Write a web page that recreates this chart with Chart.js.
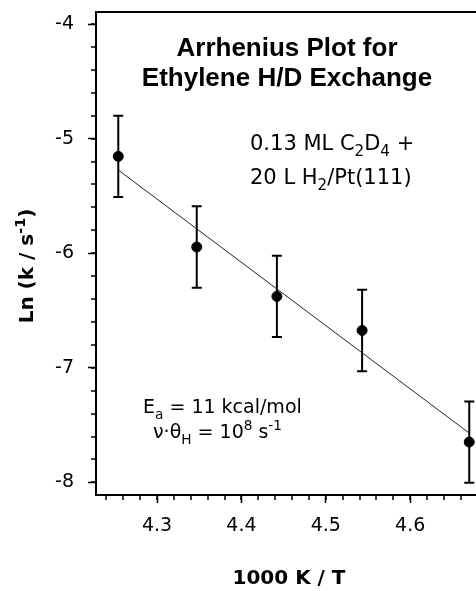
<!DOCTYPE html>
<html>
<head>
<meta charset="utf-8">
<script src="https://cdn.jsdelivr.net/npm/chart.js@4.4.0/dist/chart.umd.min.js"></script>
<style>
  html, body { margin: 0; padding: 0; background: #fff; overflow: hidden; }
</style>
</head>
<body>
<canvas id="arrhenius" width="476" height="591"></canvas>
<script>
// 1000/T (K^-1) and ln k for the five temperatures
const invTemp = [4.254, 4.347, 4.442, 4.543, 4.670];
const lnK = [-5.155, -5.946, -6.377, -6.674, -7.648];
const lnKErr = [0.355, 0.355, 0.355, 0.355, 0.355];

// fitted line end points
const fitX = [4.254, 4.670];
const fitY = [-5.274, -7.570];

const xTicks = [4.3, 4.4, 4.5, 4.6];
const yTicks = [-8, -7, -6, -5, -4];
const xMinorStep = 0.02;
const yMinorStep = 0.2;

const SANS = "'Liberation Sans', Arial, sans-serif";
const WIDE = "'DejaVu Sans', sans-serif";

// draws text runs with sub/superscripts, baseline at y
function drawRich(ctx, parts, x, y, size, opts = {}) {
    const weight = opts.bold ? 'bold ' : '';
    const family = opts.family || WIDE;
    const fontOf = p => weight + ((p.sub || p.sup) ? size * 0.72 : size) + 'px ' + family;
    let w = 0;
    parts.forEach(p => { ctx.font = fontOf(p); w += ctx.measureText(p.t).width; });
    let cx = opts.align === 'center' ? x - w / 2 : x;
    ctx.textAlign = 'left';
    ctx.textBaseline = 'alphabetic';
    parts.forEach(p => {
        ctx.font = fontOf(p);
        const dy = p.sub ? size * 0.3 : p.sup ? -size * 0.42 : 0;
        ctx.fillText(p.t, cx, y + dy);
        cx += ctx.measureText(p.t).width;
    });
}

const framePlugin = {
    id: 'frame',
    afterDraw(chart) {
        const { ctx, chartArea: a } = chart;
        ctx.save();
        ctx.strokeStyle = '#000';
        ctx.lineWidth = 2;
        ctx.beginPath();
        ctx.moveTo(a.left - 1, a.top);
        ctx.lineTo(a.right, a.top);
        ctx.stroke();

        // minor ticks
        const xs = chart.scales.x, ys = chart.scales.y;
        ctx.lineWidth = 1.5;
        ctx.beginPath();
        for (let v = yTicks[0]; v <= ys.max + 1e-9; v += yMinorStep) {
            const py = Math.round(ys.getPixelForValue(v));
            ctx.moveTo(a.left - 5, py);
            ctx.lineTo(a.left, py);
        }
        for (let v = 4.24; v <= xs.max + 1e-9; v += xMinorStep) {
            const px = Math.round(xs.getPixelForValue(v));
            ctx.moveTo(px, a.bottom);
            ctx.lineTo(px, a.bottom + 5);
        }
        ctx.stroke();
        ctx.restore();
    }
};

const errorBars = {
    id: 'errorBars',
    beforeDatasetsDraw(chart) {
        const { ctx } = chart;
        const xs = chart.scales.x, ys = chart.scales.y;
        ctx.save();
        ctx.strokeStyle = '#000';
        ctx.lineWidth = 2;
        invTemp.forEach((x, i) => {
            const px = xs.getPixelForValue(x);
            const top = ys.getPixelForValue(lnK[i] + lnKErr[i]);
            const bot = ys.getPixelForValue(lnK[i] - lnKErr[i]);
            ctx.beginPath();
            ctx.moveTo(px, top);
            ctx.lineTo(px, bot);
            ctx.moveTo(px - 5, top);
            ctx.lineTo(px + 5, top);
            ctx.moveTo(px - 5, bot);
            ctx.lineTo(px + 5, bot);
            ctx.stroke();
        });
        ctx.restore();
    }
};

const labels = {
    id: 'labels',
    afterDraw(chart) {
        const { ctx } = chart;
        ctx.save();
        ctx.fillStyle = '#000';

        drawRich(ctx, [{ t: 'Arrhenius Plot for' }], 287, 56, 26, { bold: true, align: 'center', family: SANS });
        drawRich(ctx, [{ t: 'Ethylene H/D Exchange' }], 287, 86, 26, { bold: true, align: 'center', family: SANS });

        drawRich(ctx, [{ t: '0.13 ML C' }, { t: '2', sub: true }, { t: 'D' }, { t: '4', sub: true }, { t: ' +' }], 250, 150, 21);
        drawRich(ctx, [{ t: '20 L H' }, { t: '2', sub: true }, { t: '/Pt(111)' }], 250, 184, 21);

        drawRich(ctx, [{ t: 'E' }, { t: 'a', sub: true }, { t: ' = 11 kcal/mol' }], 143, 413, 19);
        drawRich(ctx, [{ t: 'ν·θ' }, { t: 'H', sub: true }, { t: ' = 10' }, { t: '8', sup: true }, { t: ' s' }, { t: '-1', sup: true }], 153, 438, 19);

        drawRich(ctx, [{ t: '1000 K / T' }], 289, 584, 20, { bold: true, align: 'center' });

        ctx.translate(33, 266);
        ctx.rotate(-Math.PI / 2);
        drawRich(ctx, [{ t: 'Ln (k / s' }, { t: '-1', sup: true }, { t: ')' }], 0, 0, 20, { bold: true, align: 'center' });
        ctx.restore();
    }
};

new Chart(document.getElementById('arrhenius'), {
    type: 'scatter',
    data: {
        datasets: [
            {
                type: 'line',
                data: fitX.map((x, i) => ({ x, y: fitY[i] })),
                borderColor: '#222',
                borderWidth: 1,
                pointRadius: 0,
                fill: false,
                order: 2
            },
            {
                data: invTemp.map((x, i) => ({ x, y: lnK[i] })),
                backgroundColor: '#000',
                borderColor: '#000',
                pointRadius: 5,
                clip: false,
                order: 1
            }
        ]
    },
    plugins: [framePlugin, errorBars, labels],
    options: {
        responsive: false,
        devicePixelRatio: 1,
        animation: false,
        layout: { autoPadding: false, padding: { top: 12, left: 0, right: 0, bottom: 0 } },
        plugins: { legend: { display: false }, tooltip: { enabled: false } },
        scales: {
            x: {
                type: 'linear',
                min: 4.2276,
                max: 4.678,
                afterBuildTicks: s => { s.ticks = xTicks.map(v => ({ value: v })); },
                afterFit: s => { s.height = 96; s.paddingLeft = 0; s.paddingRight = 0; },
                border: { color: '#000', width: 2 },
                grid: { drawOnChartArea: false, tickLength: 8, tickWidth: 1.5, tickColor: '#000' },
                ticks: {
                    color: '#000',
                    padding: 12,
                    font: { family: WIDE, size: 19 },
                    callback: v => v.toFixed(1)
                }
            },
            y: {
                min: -8.11,
                max: -3.895,
                afterBuildTicks: s => { s.ticks = yTicks.map(v => ({ value: v })); },
                afterFit: s => { s.width = 96; s.paddingTop = 0; s.paddingBottom = 0; },
                border: { color: '#000', width: 2 },
                grid: { drawOnChartArea: false, tickLength: 8, tickWidth: 1.5, tickColor: '#000' },
                ticks: {
                    color: '#000',
                    padding: 14,
                    font: { family: WIDE, size: 19 },
                    callback: v => String(v)
                }
            }
        }
    }
});
</script>
</body>
</html>
